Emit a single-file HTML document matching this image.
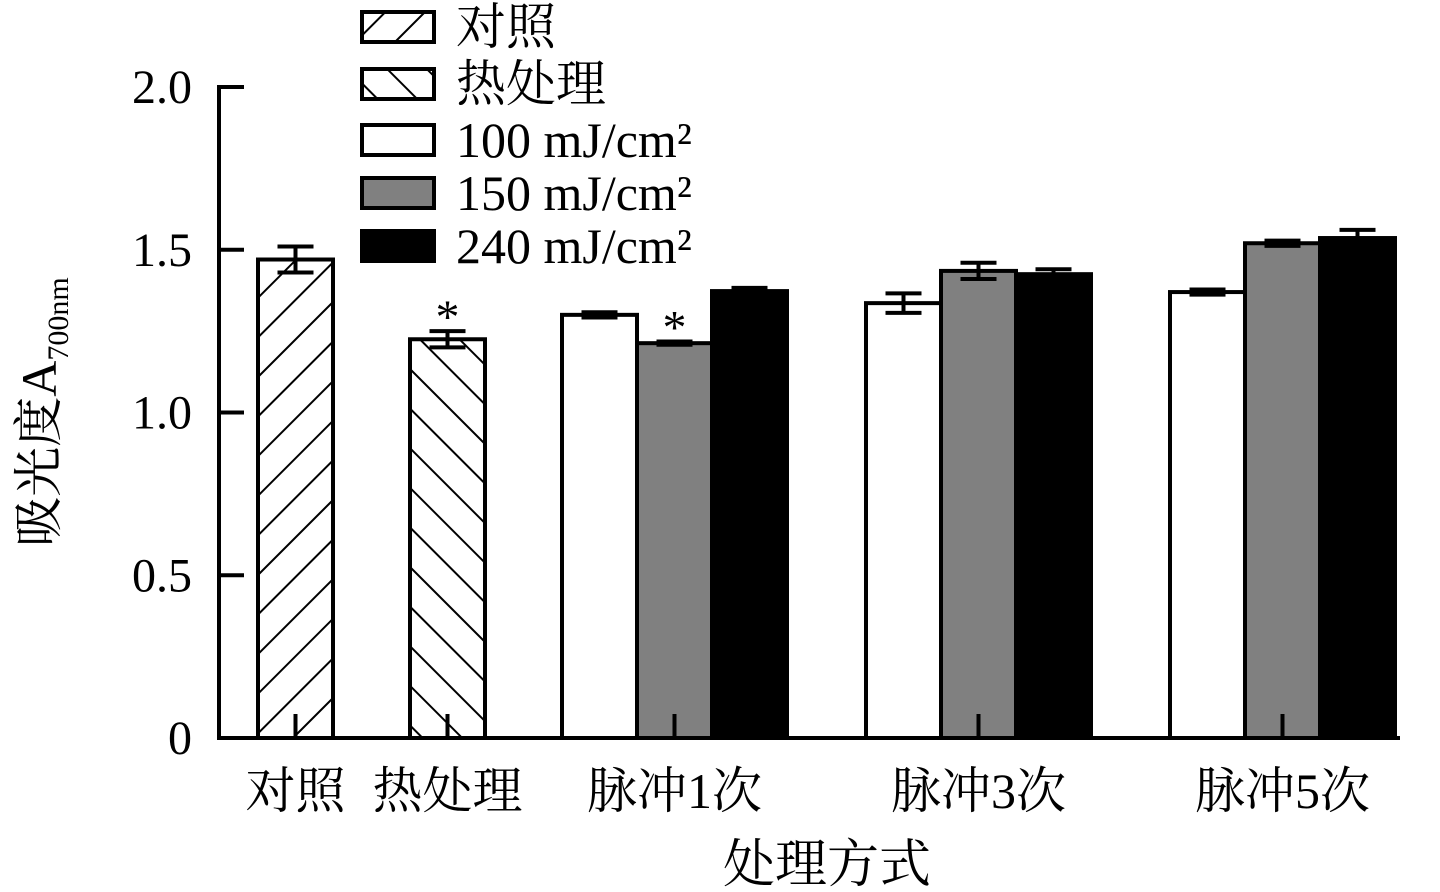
<!DOCTYPE html>
<html><head><meta charset="utf-8"><style>
body{margin:0;background:#fff;}
svg{display:block;font-family:"Liberation Serif","Noto Serif CJK SC",serif;}
</style></head><body>
<svg id="c" width="1440" height="892" viewBox="0 0 1440 892">
<defs>
<pattern id="hf" patternUnits="userSpaceOnUse" width="28" height="28" patternTransform="rotate(45)"><line x1="0" y1="0" x2="0" y2="28" stroke="#000" stroke-width="4"/></pattern>
<pattern id="hb" patternUnits="userSpaceOnUse" width="28" height="28" patternTransform="rotate(-45)"><line x1="0" y1="0" x2="0" y2="28" stroke="#000" stroke-width="4"/></pattern>
</defs>
<g id="plot"></g>
</svg>
<script>
const groups=["对照","热处理","脉冲1次","脉冲3次","脉冲5次"];
const seriesNames=["对照","热处理","100 mJ/cm²","150 mJ/cm²","240 mJ/cm²"];
const values=[[1.47],[1.225],[1.30,1.213,1.373],[1.336,1.435,1.425],[1.37,1.52,1.536]];
const errors=[[0.04],[0.025],[0.008,0.005,0.01],[0.03,0.025,0.015],[0.008,0.008,0.025]];
const seriesIdx=[[0],[1],[2,3,4],[2,3,4],[2,3,4]];
const stars=[[false],[true],[false,true,false],[false,false,false],[false,false,false]];
const yTicks=[0,0.5,1.0,1.5,2.0];
const yTickLabels=["0","0.5","1.0","1.5","2.0"];
const NS="http://www.w3.org/2000/svg";
const g=document.getElementById("plot");
const y=v=>738-v*325.5;
const groupStart=[258,410,562,866,1170];
const bw=75;
const fills=["url(#hf)","url(#hb)","#fff","#808080","#000"];
function mk(t,a,p){const e=document.createElementNS(NS,t);for(const k in a)e.setAttribute(k,a[k]);(p||g).appendChild(e);return e;}
let e=mk("line",{x1:219,y1:85,x2:219,y2:740,stroke:"#000","stroke-width":4});


e=mk("line",{x1:217,y1:738,x2:1400,y2:738,stroke:"#000","stroke-width":4});


yTicks.forEach((t,i)=>{
 let l=mk("line",{x1:219,y1:y(t),x2:244,y2:y(t),stroke:"#000","stroke-width":4});
 
 
 let tx=mk("text",{x:192,y:y(t)+16,"text-anchor":"end","font-size":48});
 tx.textContent=yTickLabels[i];
 
 
});
groups.forEach((gn,gi)=>{
 values[gi].forEach((v,j)=>{
  const x0=groupStart[gi]+j*bw;
  let r=mk("rect",{x:x0,y:y(v),width:bw,height:y(0)-y(v),fill:fills[seriesIdx[gi][j]],stroke:"#000","stroke-width":4});
  
  
  const cx=x0+bw/2,er=errors[gi][j];
  let eb=mk("path",{d:`M${cx} ${y(v+er)}V${y(v-er)}M${cx-18} ${y(v+er)}H${cx+18}M${cx-18} ${y(v-er)}H${cx+18}`,stroke:"#000","stroke-width":4,fill:"none"});
  
  
  if(stars[gi][j]){let s=mk("text",{x:cx,y:y(v+er)+2,"text-anchor":"middle","font-size":48});s.textContent="*";
   
   }
 });
 const n=values[gi].length, cx=groupStart[gi]+n*bw/2;
 let tk=mk("line",{x1:cx,y1:714,x2:cx,y2:738,stroke:"#000","stroke-width":4});
 
 
 let lb=mk("text",{x:cx,y:808,"text-anchor":"middle","font-size":50});
 lb.textContent=gn;
 
 
});
let xt=mk("text",{x:827,y:882,"text-anchor":"middle","font-size":52});xt.textContent="处理方式";


let yt=mk("text",{transform:"translate(56,412) rotate(-90)","text-anchor":"middle","font-size":50});
yt.innerHTML='吸光度A<tspan font-size="30" dy="12">700nm</tspan>';


const legY=[27,84,140,193,246];
seriesNames.forEach((s,i)=>{
 let r=mk("rect",{x:362,y:legY[i]-15,width:72,height:30,fill:fills[i],stroke:"#000","stroke-width":4});
 
 
 let t=mk("text",{x:456,y:legY[i]+17,"font-size":50});
 t.textContent=s;
 
 
});
</script>
</body></html>
